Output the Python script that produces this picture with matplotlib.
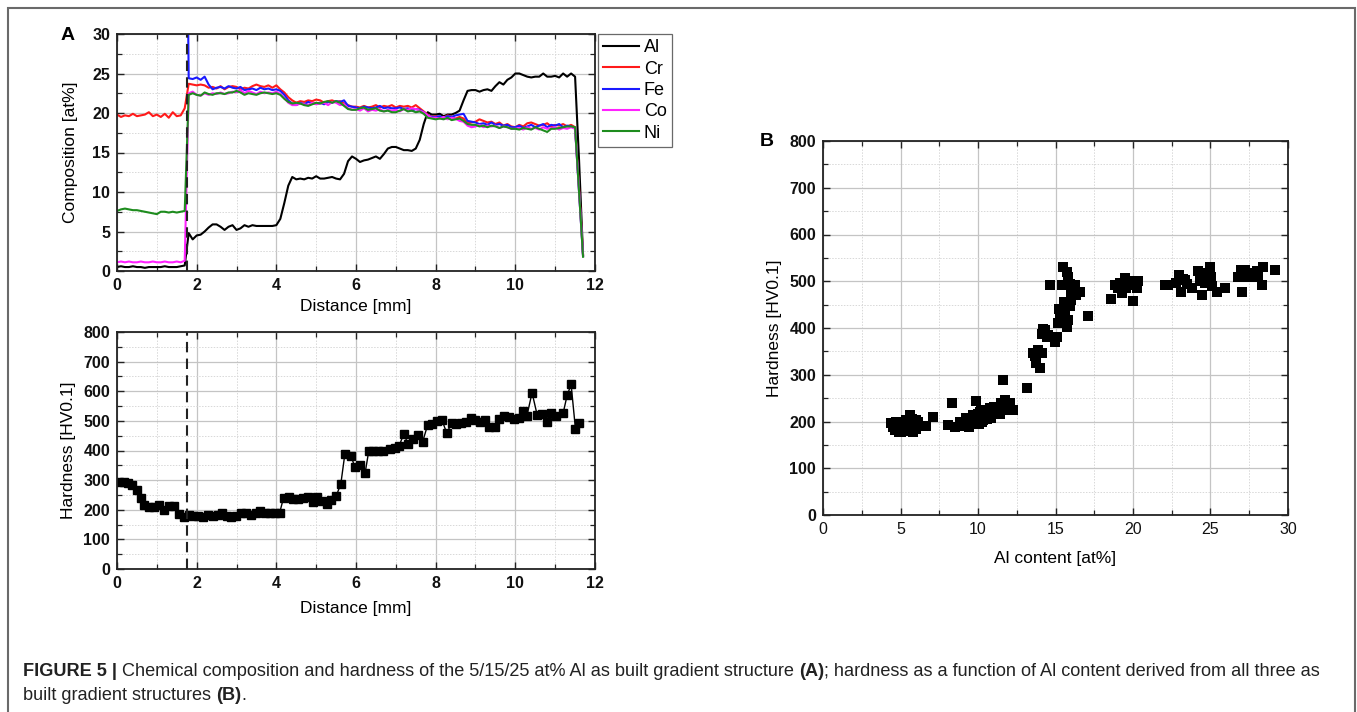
import numpy as np
import matplotlib
matplotlib.use("Agg")
import matplotlib.pyplot as plt
from matplotlib.ticker import MultipleLocator
from matplotlib.patches import Rectangle

plt.rcParams['font.family'] = ['Liberation Sans', 'DejaVu Sans']

# ---------------- data: composition profile (panel A, top) ----------------
distance_mm = np.round(np.arange(0, 11.75, 0.1), 2)   # 0.0 ... 11.7 mm sampling positions

al = [0.5, 0.6, 0.5, 0.5, 0.6, 0.5, 0.5, 0.4, 0.5, 0.5,
      0.5, 0.5, 0.6, 0.5, 0.5, 0.5, 0.6, 0.7, 4.8, 4.0,
      4.5, 4.6, 5.0, 5.5, 5.9, 5.9, 5.6, 5.2, 5.6, 5.8,
      5.2, 5.4, 5.8, 5.6, 5.8, 5.7, 5.7, 5.7, 5.7, 5.7,
      5.8, 6.6, 8.6, 10.8, 11.9, 11.6, 11.7, 11.6, 11.8, 11.7,
      12.0, 11.7, 11.7, 11.8, 11.9, 11.7, 11.6, 12.3, 13.9, 14.5,
      14.2, 13.8, 14.0, 14.1, 14.3, 14.5, 14.2, 14.8, 15.5, 15.7,
      15.7, 15.5, 15.3, 15.3, 15.2, 15.5, 16.6, 18.6, 20.1, 19.8,
      19.8, 19.9, 19.6, 19.8, 19.8, 20.0, 20.3, 21.6, 22.8, 22.9,
      22.9, 22.7, 22.9, 23.0, 22.8, 23.4, 23.9, 23.6, 24.2, 24.5,
      25.0, 25.0, 24.8, 24.6, 24.5, 24.6, 24.6, 25.0, 24.6, 24.6,
      24.7, 24.5, 25.0, 24.6, 25.0, 24.6, 14.0, 2.0]

cr = [19.8, 19.5, 19.7, 19.6, 19.9, 19.6, 19.7, 19.8, 20.1, 19.6,
      19.8, 19.5, 19.9, 19.4, 20.1, 19.6, 19.7, 20.6, 23.7, 23.6,
      23.5, 23.6, 23.5, 23.2, 23.3, 23.1, 23.4, 23.0, 23.3, 23.4,
      23.3, 23.0, 23.2, 23.1, 23.4, 23.6, 23.4, 23.3, 23.5, 23.2,
      23.5, 23.0, 22.6, 22.0, 21.6, 21.3, 21.5, 21.4, 21.6, 21.5,
      21.7, 21.6, 21.3, 21.5, 21.6, 21.4, 21.5, 21.2, 21.0, 20.8,
      20.8, 20.7, 20.9, 20.7, 20.8, 21.0, 20.7, 20.9, 20.8, 21.0,
      20.7, 20.9, 20.8, 20.9, 20.7, 21.0, 20.6, 20.2, 19.8, 19.5,
      19.6, 19.5, 19.4, 19.7, 19.5, 19.3, 19.5, 19.3, 18.7, 18.8,
      18.9, 19.2, 19.0, 18.8, 18.9, 18.6, 18.8, 18.4, 18.6, 18.3,
      18.2, 18.5, 18.3, 18.7, 18.8, 18.6, 18.4, 18.5, 18.7, 18.3,
      18.5, 18.4, 18.6, 18.3, 18.5, 18.2, 10.5, 2.1]

fe = [np.nan, np.nan, np.nan, np.nan, np.nan, np.nan, np.nan, np.nan, np.nan, np.nan,
      np.nan, np.nan, np.nan, np.nan, np.nan, np.nan, np.nan, 72.0, 24.4, 24.3,
      24.5, 24.2, 24.6, 23.6, 23.0, 23.2, 23.3, 23.1, 23.4, 23.2,
      23.1, 23.3, 22.9, 23.0, 23.1, 22.9, 23.2, 23.0, 23.1, 22.9,
      23.0, 22.8, 22.3, 21.6, 21.2, 21.0, 21.3, 21.1, 21.4, 21.2,
      21.2, 21.3, 21.1, 21.4, 21.3, 21.5, 21.4, 21.6, 20.9, 20.8,
      20.7, 20.6, 20.8, 20.7, 20.6, 20.7, 20.9, 20.6, 20.7, 20.6,
      20.6, 20.7, 20.5, 20.6, 20.3, 20.5, 20.4, 20.1, 19.7, 19.5,
      19.5, 19.6, 19.4, 19.6, 19.5, 19.7, 19.8, 19.9, 19.0, 18.9,
      18.8, 18.6, 18.7, 18.5, 18.8, 18.5, 18.6, 18.4, 18.5, 18.2,
      18.2, 18.4, 18.1, 18.3, 18.5, 18.2, 18.4, 18.6, 18.2, 18.5,
      18.4, 18.6, 18.2, 18.4, 18.3, 18.1, 10.0, 1.9]

co = [1.1, 1.2, 1.1, 1.2, 1.1, 1.1, 1.2, 1.1, 1.1, 1.2,
      1.1, 1.1, 1.2, 1.1, 1.1, 1.2, 1.1, 1.3, 22.5, 22.7,
      22.3, 22.2, 22.5, 22.3, 22.5, 22.4, 22.6, 22.4, 22.5, 22.7,
      22.6, 22.9, 22.5, 22.8, 22.6, 22.4, 22.7, 22.5, 22.6, 22.5,
      22.7, 22.4, 21.9, 21.3, 21.0, 21.0, 21.2, 21.1, 21.0, 21.3,
      21.1, 21.2, 21.3, 21.0, 21.4, 21.3, 21.0, 21.1, 20.6, 20.4,
      20.5, 20.3, 20.6, 20.2, 20.4, 20.3, 20.5, 20.2, 20.4, 20.3,
      20.4, 20.2, 20.5, 20.4, 20.6, 20.5, 20.3, 20.1, 19.7, 19.4,
      19.4, 19.3, 19.5, 19.2, 19.4, 19.3, 19.0, 18.9, 18.4, 18.2,
      18.3, 18.5, 18.2, 18.4, 18.3, 18.4, 18.1, 18.3, 18.2, 18.0,
      18.0, 18.1, 17.9, 18.2, 18.0, 18.1, 17.9, 18.2, 18.0, 18.1,
      18.2, 17.9, 18.1, 18.0, 18.2, 18.0, 10.0, 1.9]

ni = [7.6, 7.8, 7.9, 7.8, 7.7, 7.7, 7.6, 7.5, 7.4, 7.3,
      7.2, 7.5, 7.5, 7.4, 7.5, 7.4, 7.5, 7.6, 22.3, 22.5,
      22.3, 22.2, 22.6, 22.4, 22.3, 22.5, 22.5, 22.4, 22.6, 22.6,
      22.8, 22.6, 22.3, 22.5, 22.4, 22.3, 22.5, 22.6, 22.5, 22.4,
      22.5, 22.3, 21.8, 21.4, 21.2, 21.3, 21.2, 21.0, 20.9, 21.1,
      21.3, 21.2, 21.4, 21.5, 21.3, 21.5, 21.3, 20.9, 20.5, 20.4,
      20.4, 20.6, 20.7, 20.4, 20.5, 20.6, 20.3, 20.2, 20.3, 20.1,
      20.1, 20.3, 20.5, 20.2, 20.3, 20.1, 20.2, 19.9, 19.4, 19.3,
      19.2, 19.3, 19.2, 19.4, 19.1, 19.2, 19.3, 19.0, 18.6, 18.5,
      18.5, 18.3, 18.4, 18.2, 18.4, 18.3, 18.1, 18.3, 18.2, 18.0,
      18.0, 17.9, 18.1, 18.0, 17.9, 18.2, 18.0, 17.8, 17.6, 18.0,
      18.0, 18.1, 18.2, 18.3, 18.3, 18.2, 10.0, 1.8]

element_names = ['Al', 'Cr', 'Fe', 'Co', 'Ni']
element_colors = ['#000000', '#ff1a1a', '#1a1aff', '#ff22ff', '#1e8c1e']

interface_mm = 1.75

# ---------------- data: hardness profile (panel A, bottom) ----------------
hv_distance = [0.06, 0.18, 0.27, 0.38, 0.49, 0.6, 0.69, 0.8, 0.94, 1.06,
               1.19, 1.31, 1.44, 1.55, 1.67, 1.8, 1.92, 2.03, 2.15, 2.28,
               2.4, 2.53, 2.64, 2.75, 2.86, 2.99, 3.11, 3.24, 3.36, 3.49,
               3.59, 3.72, 3.84, 3.97, 4.08, 4.18, 4.31, 4.43, 4.54, 4.66,
               4.79, 4.91, 5.02, 5.15, 5.26, 5.37, 5.5, 5.62, 5.72, 5.87,
               5.97, 6.1, 6.23, 6.32, 6.43, 6.56, 6.68, 6.85, 6.97, 7.08,
               7.2, 7.31, 7.44, 7.56, 7.67, 7.8, 7.92, 8.04, 8.16, 8.28,
               8.4, 8.51, 8.64, 8.76, 8.88, 9.0, 9.12, 9.24, 9.35, 9.48,
               9.6, 9.72, 9.85, 9.96, 10.08, 10.19, 10.29, 10.42, 10.55, 10.67,
               10.8, 10.9, 11.03, 11.2, 11.3, 11.4, 11.51, 11.6]
hv_values = [295, 293, 290, 285, 265, 240, 215, 210, 208, 215,
             200, 213, 212, 185, 175, 183, 180, 178, 175, 183,
             180, 182, 188, 178, 175, 180, 188, 190, 182, 190,
             197, 188, 190, 188, 188, 240, 243, 235, 235, 238,
             243, 225, 243, 228, 218, 233, 245, 288, 388, 383,
             345, 350, 325, 398, 398, 398, 398, 405, 410, 415,
             456, 421, 440, 453, 428, 487, 490, 500, 502, 458,
             494, 489, 492, 497, 511, 502, 497, 503, 481, 480,
             508, 517, 514, 508, 509, 534, 517, 595, 519, 523,
             497, 526, 517, 526, 586, 623, 472, 494]

# ---------------- data: hardness vs Al content (panel B) ----------------
al_content = [4.37, 4.5, 4.62, 4.65, 4.73, 4.84, 4.9, 5.05, 5.1, 5.16, 5.25, 5.3, 5.38, 5.45,
              5.48, 5.55, 5.63, 5.7, 5.75, 5.8, 5.85, 5.98, 6.02, 6.1, 6.67, 7.1,
              8.06, 8.34, 8.49, 8.82, 8.9, 9.03, 9.15, 9.25, 9.35, 9.45, 9.57, 9.6, 9.68, 9.75,
              9.85, 9.89, 9.95, 10.0, 10.05, 10.1, 10.15, 10.2, 10.25, 10.32, 10.4, 10.54, 10.6,
              10.75, 10.8, 10.86, 10.97, 11.05, 11.18, 11.3, 11.4, 11.5, 11.61, 11.72, 11.8, 11.83,
              11.95, 12.04, 12.26, 13.13,
              13.56, 13.7, 13.77, 13.88, 13.99, 14.1, 14.1, 14.2, 14.31, 14.45, 14.53, 14.63,
              14.96, 15.1, 15.17, 15.2, 15.28, 15.28, 15.39, 15.49, 15.49, 15.55, 15.6, 15.71,
              15.71, 15.82, 15.82, 15.92, 15.92, 16.03, 16.03, 16.14, 16.25, 16.35, 16.57, 17.1,
              18.6, 18.83, 19.0, 19.15, 19.32, 19.47, 19.58, 19.7, 19.8, 19.97, 20.12, 20.23, 20.3,
              22.05, 22.27, 22.8, 23.0, 23.1, 23.2, 23.35, 23.5, 23.78, 24.2, 24.3, 24.42, 24.48,
              24.63, 24.74, 24.8, 24.96, 25.06, 25.1, 25.39, 25.93,
              26.79, 27.0, 27.06, 27.2, 27.43, 27.6, 27.75, 27.97, 28.08, 28.3, 28.4, 29.15]
al_hardness = [196, 188, 182, 195, 200, 189, 178, 178, 195, 192, 185, 200, 203, 190,
               185, 180, 214, 196, 205, 178, 190, 203, 185, 198, 190, 210,
               192, 240, 189, 200, 192, 190, 198, 207, 192, 188, 203, 195, 214, 200,
               244, 200, 210, 217, 195, 207, 220, 224, 200, 203, 212, 214, 205,
               228, 215, 207, 221, 230, 232, 225, 217, 240, 289, 246, 235, 224,
               230, 239, 224, 271,
               346, 340, 325, 353, 314, 346, 388, 398, 396, 380, 385, 492,
               371, 381, 410, 440, 431, 417, 492, 421, 531, 455, 439, 520,
               403, 510, 417, 495, 446, 481, 460, 478, 492, 470, 478, 426,
               463, 492, 485, 496, 475, 507, 485, 500, 492, 457, 496, 485, 500,
               492, 492, 496, 514, 478, 505, 503, 495, 485, 521, 500, 510, 470,
               496, 517, 505, 531, 510, 490, 478, 485,
               510, 524, 478, 524, 510, 515, 517, 521, 510, 492, 531, 524]

# ---------------- figure ----------------
W, H = 1357, 712
fig = plt.figure(figsize=(W / 100, H / 100), dpi=100)


def px_axes(left, top, right, bottom):
    return fig.add_axes([left / W, 1 - bottom / H, (right - left) / W, (bottom - top) / H])


def style(ax, bold_x=True, bold_y=True):
    ax.grid(True, which='major', color='#c4c4c4', lw=0.9, ls='-')
    ax.grid(True, which='minor', color='#d8d8d8', lw=0.7, ls=(0, (1.5, 1.5)))
    ax.set_axisbelow(True)
    ax.tick_params(which='both', direction='in', top=True, right=True, colors='#222222')
    ax.tick_params(which='major', length=5, width=1.0, labelsize=11.5, pad=5)
    ax.tick_params(which='minor', length=3.5, width=0.9)
    for lab in ax.get_xticklabels():
        lab.set_fontweight('bold' if bold_x else 'normal')
        lab.set_color('#111111')
    for lab in ax.get_yticklabels():
        lab.set_fontweight('bold' if bold_y else 'normal')
        lab.set_color('#111111')
    for s in ax.spines.values():
        s.set_linewidth(1.3)
        s.set_color('#222222')


# Panel A top: composition
ax1 = px_axes(117, 34, 595, 271)
lines = []
for name, vals, col in zip(element_names, [al, cr, fe, co, ni], element_colors):
    ln, = ax1.plot(distance_mm, vals, color=col, lw=1.5, label=name)
    lines.append(ln)
ax1.axvline(interface_mm, color='#222222', lw=1.5, ls=(0, (5, 3)))
ax1.set_xlim(0, 12)
ax1.set_ylim(0, 30)
ax1.xaxis.set_major_locator(MultipleLocator(2))
ax1.xaxis.set_minor_locator(MultipleLocator(1))
ax1.yaxis.set_major_locator(MultipleLocator(5))
ax1.yaxis.set_minor_locator(MultipleLocator(2.5))
style(ax1)
ax1.set_xlabel('Distance [mm]', fontsize=12.5)
ax1.set_ylabel('Composition [at%]', fontsize=12.5)
ax1.xaxis.label.set_va('center')
ax1.yaxis.label.set_va('center')
ax1.xaxis.set_label_coords(0.5, (271 - 307) / 237)
ax1.yaxis.set_label_coords((70 - 117) / 478, 0.5)
leg = ax1.legend(handles=lines, loc='upper left', bbox_to_anchor=(1.006, 1.0),
                 borderaxespad=0, frameon=True, fancybox=False, fontsize=13,
                 handlelength=2.0, handletextpad=0.25, labelspacing=0.24,
                 borderpad=0.3, edgecolor='#444444')
leg.get_frame().set_linewidth(0.9)

# Panel A bottom: hardness vs distance
ax2 = px_axes(117, 332, 595, 569)
ax2.plot(hv_distance, hv_values, color='black', lw=1.0, marker='s', markersize=6.4,
         markerfacecolor='black', markeredgecolor='black')
ax2.axvline(interface_mm, color='#222222', lw=1.5, ls=(0, (5, 3)))
ax2.set_xlim(0, 12)
ax2.set_ylim(0, 800)
ax2.xaxis.set_major_locator(MultipleLocator(2))
ax2.xaxis.set_minor_locator(MultipleLocator(1))
ax2.yaxis.set_major_locator(MultipleLocator(100))
ax2.yaxis.set_minor_locator(MultipleLocator(50))
style(ax2)
ax2.set_xlabel('Distance [mm]', fontsize=12.5)
ax2.set_ylabel('Hardness [HV0.1]', fontsize=12.5)
ax2.xaxis.label.set_va('center')
ax2.yaxis.label.set_va('center')
ax2.xaxis.set_label_coords(0.5, (569 - 609) / 237)
ax2.yaxis.set_label_coords((68 - 117) / 478, 0.5)

# Panel B: hardness vs Al content
ax3 = px_axes(823, 141, 1288, 515)
ax3.scatter(al_content, al_hardness, marker='s', s=60, color='black', linewidths=0)
ax3.set_xlim(0, 30)
ax3.set_ylim(0, 800)
ax3.xaxis.set_major_locator(MultipleLocator(5))
ax3.xaxis.set_minor_locator(MultipleLocator(2.5))
ax3.yaxis.set_major_locator(MultipleLocator(100))
ax3.yaxis.set_minor_locator(MultipleLocator(50))
style(ax3, bold_x=False, bold_y=True)
ax3.set_xlabel('Al content [at%]', fontsize=12.5)
ax3.set_ylabel('Hardness [HV0.1]', fontsize=12.5)
ax3.xaxis.label.set_va('center')
ax3.yaxis.label.set_va('center')
ax3.xaxis.set_label_coords(0.5, (515 - 559) / 374)
ax3.yaxis.set_label_coords((775 - 823) / 465, 0.5)

# panel letters
fig.text(68 / W, 1 - 36 / H, 'A', fontsize=14, fontweight='bold', ha='center', va='center')
fig.text(767 / W, 1 - 141 / H, 'B', fontsize=14, fontweight='bold', ha='center', va='center')

# outer frame (open at the bottom)
fig.add_artist(Rectangle((8 / W, -0.05), (1355 - 8) / W, 1.05 - 8 / H, transform=fig.transFigure,
                         fill=False, edgecolor='#6a6a6a', lw=1.5))

# caption
caption_lines = [
    [('FIGURE 5 | ', 'bold'),
     ('Chemical composition and hardness of the 5/15/25 at% Al as built gradient structure ', 'normal'),
     ('(A)', 'bold'),
     ('; hardness as a function of Al content derived from all three as', 'normal')],
    [('built gradient structures ', 'normal'), ('(B)', 'bold'), ('.', 'normal')],
]
renderer = fig.canvas.get_renderer()


def line_width(parts, size):
    total = 0
    for txt, wt in parts:
        t = fig.text(0, 0, txt, fontsize=size, fontweight=wt)
        total += t.get_window_extent(renderer).width
        t.remove()
    return total


base = 12
scale = (1330 - 23) / line_width(caption_lines[0], base)
cap_size = base * scale
for parts, ypix in zip(caption_lines, [671, 695]):
    x = 23
    for txt, wt in parts:
        t = fig.text(x / W, 1 - ypix / H, txt, fontsize=cap_size, fontweight=wt,
                     ha='left', va='center', color='#222222')
        x += t.get_window_extent(renderer).width

fig.savefig('out.png', dpi=100)
